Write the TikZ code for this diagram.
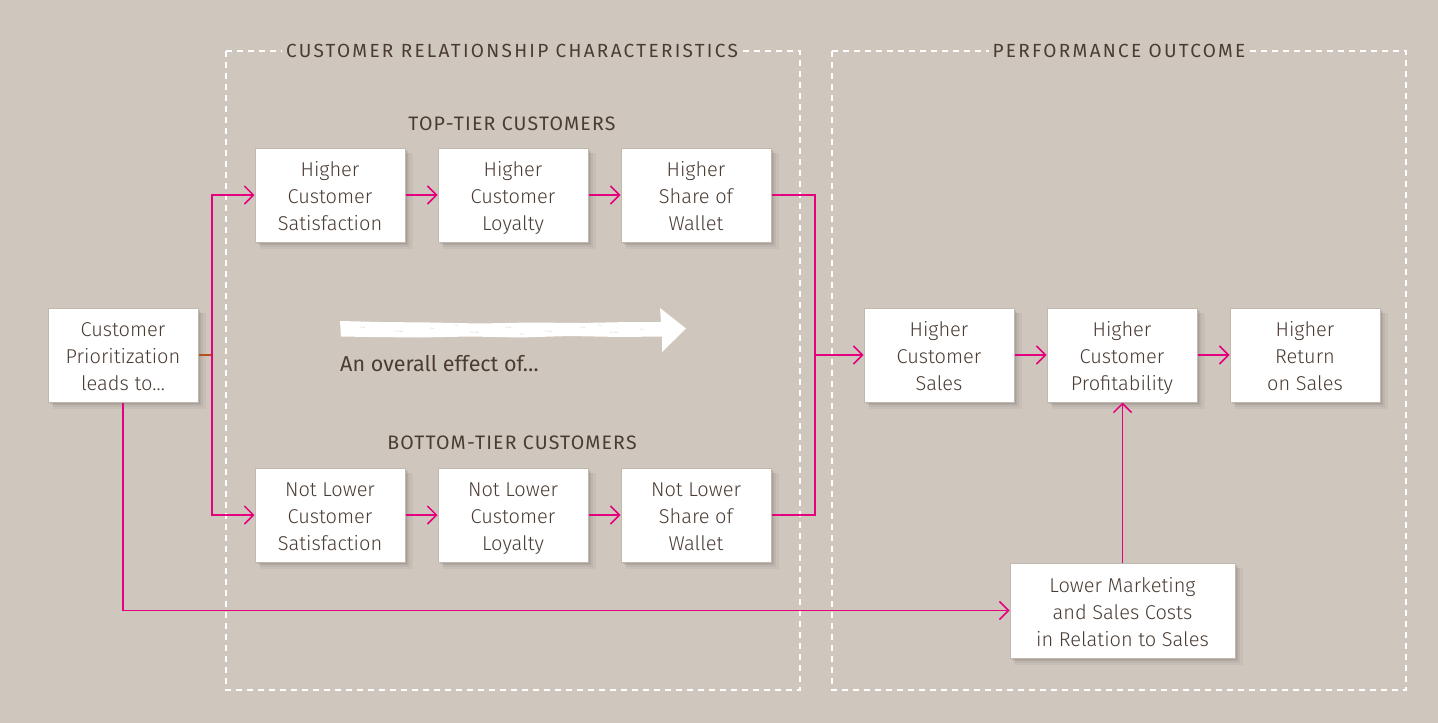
\documentclass[tikz,border=0pt]{standalone}
\usepackage{fontspec}
\setmainfont{Fira Sans Light}
\newfontfamily\capsfont{Fira Sans}[LetterSpace=12]
\newfontfamily\subfont{Fira Sans}[LetterSpace=6]
\newfontfamily\regfont{Fira Sans}
\usetikzlibrary{arrows.meta,shadows}
\definecolor{bg}{HTML}{CFC7BD}
\definecolor{txt}{HTML}{4A3C33}
\definecolor{mag}{HTML}{E5007D}
\definecolor{stub}{HTML}{B5501E}
\definecolor{boxline}{HTML}{C2B8AE}
\tikzset{
  softshadow/.style={
    general shadow={fill=black, opacity=0.035, shadow xshift=6pt, shadow yshift=-6pt, shadow scale=1.02},
    general shadow={fill=black, opacity=0.045, shadow xshift=4.5pt, shadow yshift=-4.5pt},
    general shadow={fill=black, opacity=0.06, shadow xshift=3pt, shadow yshift=-3pt},
    general shadow={fill=black, opacity=0.06, shadow xshift=1.5pt, shadow yshift=-1.5pt}},
  box/.style={draw=boxline, fill=white, line width=1pt, minimum width=150, minimum height=94,
    align=center, text=txt, font=\fontsize{20}{27}\selectfont, inner sep=2pt,
    text height=76pt, text depth=5pt, softshadow},
  frame/.style={draw=white, line width=1.4pt, dash pattern=on 6pt off 5pt},
  title/.style={fill=bg, text=txt, font=\capsfont\fontsize{19}{22}\selectfont, inner xsep=4pt, inner ysep=2pt},
  sub/.style={text=txt, font=\subfont\fontsize{19.5}{22}\selectfont},
  link/.style={draw=mag, line width=1.9pt},
  arr/.style={link, -{Straight Barb[length=9pt, width=18pt, line width=1.5pt]}},
}
\begin{document}
\begin{tikzpicture}[x=1pt, y=-1pt]
\fill[bg] (0,0) rectangle (1438,723);
\useasboundingbox (0,0) rectangle (1438,723);

% frames
\draw[frame] (226,51) rectangle (800,690);
\draw[frame] (832,51) rectangle (1406,690);
\node[title] (h1) at (512,51) {CUSTOMER RELATIONSHIP CHARACTERISTICS};
\node[title] (h2) at (1119,51) {PERFORMANCE OUTCOME};
\node[sub] (s1h) at (512,124) {TOP-TIER CUSTOMERS};
\node[sub] (s2h) at (512,443) {BOTTOM-TIER CUSTOMERS};

% sketchy arrow
\fill[white] (340,321) -- (380,322) -- (430,322.5) -- (480,323.5) -- (530,322.5) -- (580,323) -- (630,322) -- (661,322)
  -- (660,308) -- (686,328.5) -- (662,352) -- (662,336.5) -- (620,337) -- (570,336) -- (520,337.5)
  -- (470,336.5) -- (420,337.5) -- (370,337) -- (341,336.5) -- cycle;
\foreach \xa/\ya/\len in {360/327/5, 395/331/8, 430/328/4, 470/332/9, 505/327/6, 545/331/7,
  580/327/5, 610/332/8, 640/329/4, 455/325/3, 520/334/4, 598/325/3}
  \draw[bg!60!white, line width=0.6pt] (\xa,\ya) -- ++(\len,0.3);
\node[text=txt, font=\regfont\fontsize{21.5}{24}\selectfont, anchor=west, inner sep=0pt] (eff) at (340,364) {An overall effect of\ldots};

% boxes
\node[box] (cp) at (123,355) {Customer\\Prioritization\\leads to\ldots};
\node[box] (t1) at (330,195) {Higher\\Customer\\Satisfaction};
\node[box] (t2) at (513,195) {Higher\\Customer\\Loyalty};
\node[box] (t3) at (696,195) {Higher\\Share of\\Wallet};
\node[box] (b1) at (330,515) {Not Lower\\Customer\\Satisfaction};
\node[box] (b2) at (513,515) {Not Lower\\Customer\\Loyalty};
\node[box] (b3) at (696,515) {Not Lower\\Share of\\Wallet};
\node[box] (p1) at (939,355) {Higher\\Customer\\Sales};
\node[box] (p2) at (1122,355) {Higher\\Customer\\Profitability};
\node[box] (p3) at (1305,355) {Higher\\Return\\on Sales};
\node[box, minimum width=225, minimum height=95] (lm) at (1122.5,610.5) {Lower Marketing\\and Sales Costs\\in Relation to Sales};

% junctions
\coordinate (jL) at (212,355);
\coordinate (jR) at (815,355);

% connectors
\draw[draw=stub, line width=1.9pt] (cp.east) -- (jL);
\draw[arr] (jL |- b1) -- (jL |- t1) -- (t1.west);
\draw[arr] (jL |- t1) -- (jL |- b1) -- (b1.west);
\draw[arr] (t1) -- (t2);
\draw[arr] (t2) -- (t3);
\draw[arr] (b1) -- (b2);
\draw[arr] (b2) -- (b3);
\draw[link] (t3.east) -- (jR |- t3) -- (jR |- b3) -- (b3.east);
\draw[arr] (jR) -- (p1.west);
\draw[arr] (p1) -- (p2);
\draw[arr] (p2) -- (p3);
\draw[arr] (cp.south) -- (cp.south |- lm.west) -- (lm.west);
\draw[arr] (lm.north) -- (lm.north |- p2.south);
\end{tikzpicture}
\end{document}
